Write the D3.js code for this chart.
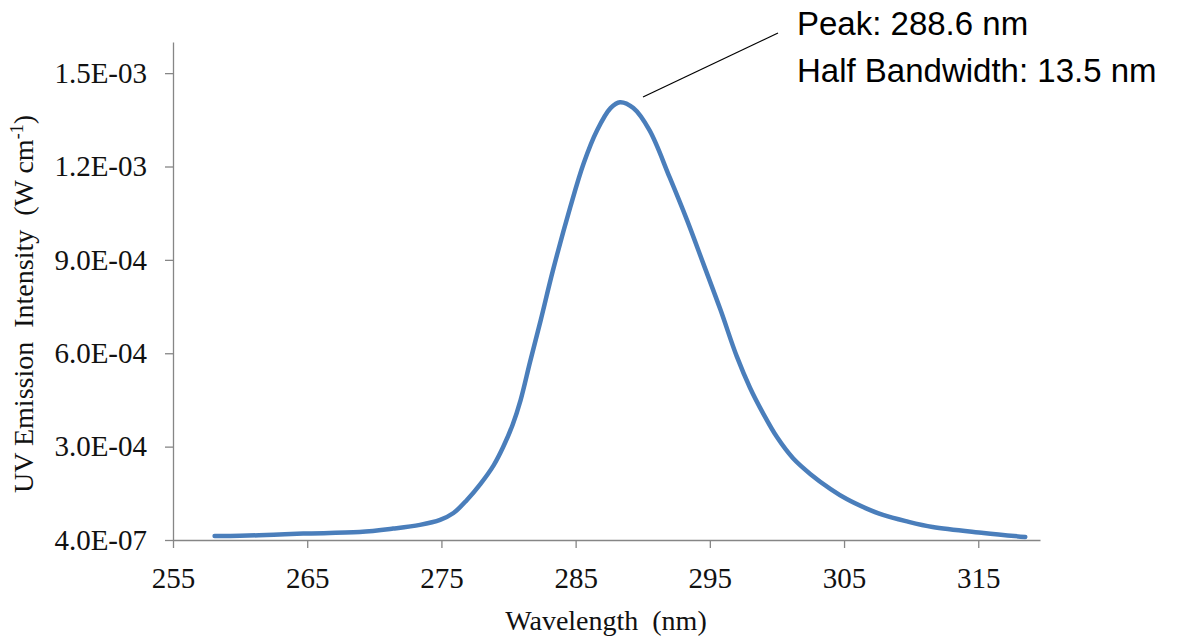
<!DOCTYPE html>
<html>
<head>
<meta charset="utf-8">
<script src="https://cdn.jsdelivr.net/npm/d3@7"></script>
<style>
  body { margin: 0; background: #fff; }
  svg { display: block; }
</style>
</head>
<body>
<svg id="chart" width="1192" height="637"></svg>
<script>
// wavelength (nm) and emission intensity (W cm^-1)
const wavelength = [258.1, 260.0, 262.5, 264.7, 268.9, 271.4, 273.4, 274.9, 275.9, 276.9,
  277.9, 278.9, 279.6, 280.3, 280.9, 281.6, 282.4, 283.3, 284.6, 285.6, 286.6, 287.6, 288.3,
  289.3, 290.5, 292.0, 293.3, 294.5, 295.8, 297.0, 298.0, 299.0, 300.0, 301.2, 302.5, 304.0,
  305.2, 306.6, 307.9, 309.6, 311.6, 315.4, 318.5];
const intensity = [0.13, 0.14, 0.17, 0.21, 0.26, 0.37, 0.49, 0.65, 0.87, 1.29,
  1.80, 2.41, 2.99, 3.70, 4.50, 5.72, 7.07, 8.65, 10.70, 12.11, 13.17, 13.88, 14.07,
  13.88, 13.17, 11.66, 10.28, 8.90, 7.39, 5.91, 4.89, 4.05, 3.31, 2.63, 2.12, 1.64,
  1.32, 1.03, 0.81, 0.61, 0.42, 0.23, 0.10].map(v => v * 1e-4);

const xTicks = [255, 265, 275, 285, 295, 305, 315];
const yTicks = [4e-7, 3.004e-4, 6.004e-4, 9.004e-4, 1.2004e-3, 1.5004e-3];
const yTickLabels = ["4.0E-07", "3.0E-04", "6.0E-04", "9.0E-04", "1.2E-03", "1.5E-03"];
const annotation = ["Peak: 288.6 nm", "Half Bandwidth: 13.5 nm"];

const svg = d3.select("#chart");
const axisColor = "#868686";
const serif = "'Liberation Serif', 'Times New Roman', serif";

const x = d3.scaleLinear().domain([255, 319.6]).range([173, 1040]);
const y = d3.scaleLinear().domain([4e-7, 1.6004e-3]).range([540, 42]);

const data = wavelength.map((w, i) => ({ w: w, v: intensity[i] }));

// x axis
const gx = svg.append("g")
  .attr("transform", "translate(0,540)")
  .call(d3.axisBottom(x).tickValues(xTicks).tickSize(8).tickSizeOuter(0).tickPadding(19)
    .tickFormat(d3.format("d")));
gx.select(".domain").attr("stroke", axisColor).attr("stroke-width", 1.3);
gx.selectAll(".tick line").attr("stroke", axisColor).attr("stroke-width", 1.3);
gx.selectAll(".tick text")
  .attr("font-family", serif).attr("font-size", 29).attr("fill", "#111");

// y axis
const gy = svg.append("g")
  .attr("transform", "translate(173,0)")
  .call(d3.axisLeft(y).tickValues(yTicks).tickSize(8).tickSizeOuter(0).tickPadding(18)
    .tickFormat((d, i) => yTickLabels[i]));
gy.select(".domain").attr("stroke", axisColor).attr("stroke-width", 1.3);
gy.selectAll(".tick line").attr("stroke", axisColor).attr("stroke-width", 1.3);
gy.selectAll(".tick text")
  .attr("font-family", serif).attr("font-size", 29).attr("fill", "#111");

// axis titles
svg.append("text")
  .attr("x", 606).attr("y", 630)
  .attr("text-anchor", "middle")
  .attr("font-family", serif).attr("font-size", 28).attr("fill", "#111")
  .style("white-space", "pre")
  .text("Wavelength  (nm)");

const yt = svg.append("text")
  .attr("transform", "translate(33,304) rotate(-90)")
  .attr("text-anchor", "middle")
  .attr("font-family", serif).attr("font-size", 28).attr("fill", "#111")
  .style("white-space", "pre");
yt.append("tspan").text("UV Emission  Intensity  (W cm");
yt.append("tspan").attr("font-size", 18).attr("dy", -10).text("-1");
yt.append("tspan").attr("dy", 10).text(")");

// curve
const line = d3.line()
  .x(d => x(d.w))
  .y(d => y(d.v))
  .curve(d3.curveCatmullRom.alpha(0.5));

svg.append("path")
  .datum(data)
  .attr("fill", "none")
  .attr("stroke", "#4a7ebb")
  .attr("stroke-width", 4.5)
  .attr("stroke-linecap", "round")
  .attr("stroke-linejoin", "round")
  .attr("d", line);

// annotation
svg.append("line")
  .attr("x1", 643).attr("y1", 97)
  .attr("x2", 778).attr("y2", 33)
  .attr("stroke", "#000").attr("stroke-width", 1.2);

svg.append("g").selectAll("text")
  .data(annotation)
  .join("text")
  .attr("x", 797)
  .attr("y", (d, i) => 35 + i * 47)
  .attr("font-family", "'Liberation Sans', Arial, sans-serif")
  .attr("font-size", 33).attr("fill", "#000")
  .text(d => d);
</script>
</body>
</html>
